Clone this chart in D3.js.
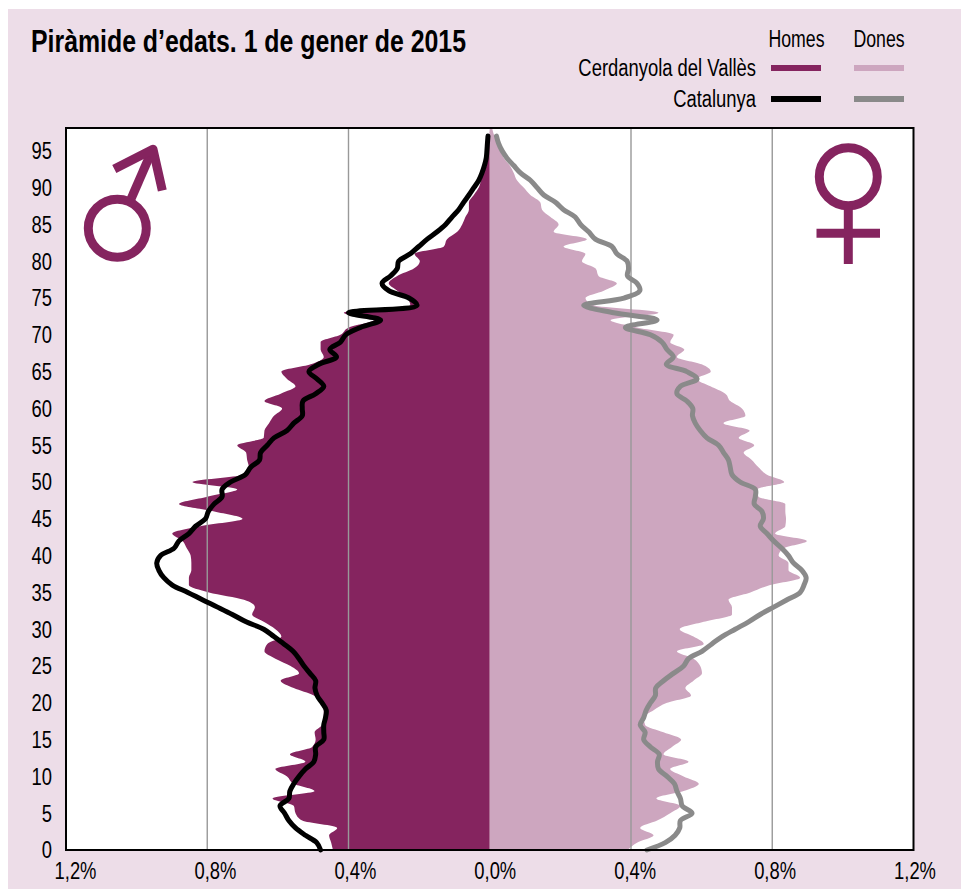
<!DOCTYPE html>
<html>
<head>
<meta charset="utf-8">
<script src="https://cdn.jsdelivr.net/npm/d3@7"></script>
<style>
  html, body { margin: 0; padding: 0; background: #fff; }
  svg { display: block; }
  text { font-family: "Liberation Sans", sans-serif; fill: #000; }
</style>
</head>
<body>
<div id="chart"></div>
<script>
// % of population by single year of age, index = age (0..)
const menLocal = [
  .444,.449,.455,.432,.531,.55,.555,.615,.496,.555,
  .574,.607,.522,.566,.503,.493,.496,.475,.47,.47,
  .47,.498,.555,.592,.54,.564,.607,.638,.63,.59,
  .607,.64,.673,.665,.696,.795,.852,.852,.845,.845,
  .847,.858,.87,.899,.82,.70,.78,.88,.80,.715,
  .842,.70,.682,.687,.69,.715,.64,.638,.625,.611,
  .588,.638,.592,.55,.574,.59,.507,.47,.479,.479,
  .423,.399,.328,.413,.225,.234,.262,.286,.262,.215,
  .198,.213,.13,.121,.092,.078,.069,.059,.059,.045,
  .031,.0245,.017,.009,.006,.004,.002,.001,0
];
const womenLocal = [
  .39,.417,.464,.426,.474,.511,.54,.472,.549,.592,
  .549,.511,.563,.492,.516,.542,.492,.44,.436,.464,
  .502,.57,.554,.577,.601,.596,.577,.53,.606,.577,
  .538,.606,.686,.686,.676,.738,.794,.879,.846,.846,
  .818,.832,.898,.808,.837,.839,.837,.837,.761,.757,
  .834,.785,.761,.742,.719,.749,.705,.736,.662,.724,
  .714,.681,.667,.625,.587,.626,.60,.53,.551,.511,
  .521,.417,.342,.478,.294,.271,.323,.36,.308,.30,
  .261,.271,.209,.275,.181,.195,.172,.148,.143,.115,
  .096,.077,.068,.057,.04,.03,.021,.013,.007
];
const menCat = [
  .479,.49,.522,.55,.569,.581,.594,.569,.566,.555,
  .54,.522,.498,.493,.493,.47,.47,.47,.465,.463,
  .475,.489,.495,.493,.509,.526,.54,.557,.583,.611,
  .64,.69,.729,.771,.814,.855,.899,.923,.937,.943,
  .932,.894,.88,.852,.833,.805,.797,.781,.758,.758,
  .734,.692,.677,.652,.649,.63,.611,.574,.555,.531,
  .531,.529,.493,.47,.489,.512,.484,.434,.453,.423,
  .408,.366,.309,.40,.206,.229,.286,.305,.281,.262,
  .258,.225,.201,.177,.149,.125,.107,.088,.074,.059,
  .045,.031,.022,.015,.01,.008,.0066,.005
];
const womenCat = [
  .445,.497,.525,.538,.54,.573,.545,.54,.53,.523,
  .502,.478,.475,.48,.455,.436,.44,.426,.436,.443,
  .455,.469,.47,.492,.52,.549,.563,.601,.629,.658,
  .695,.733,.766,.804,.842,.879,.89,.896,.884,.86,
  .846,.827,.804,.785,.766,.775,.771,.749,.752,.752,
  .709,.686,.681,.676,.662,.648,.615,.596,.582,.574,
  .575,.558,.53,.54,.587,.558,.50,.52,.502,.488,
  .455,.384,.474,.351,.266,.38,.425,.417,.39,.393,
  .389,.36,.346,.299,.28,.257,.242,.209,.186,.153,
  .134,.115,.087,.068,.049,.035,.025,.019
];
const ageTicks = d3.range(0, 100, 5);
const pctTicks = [-1.2, -0.8, -0.4, 0, 0.4, 0.8, 1.2];
const gridTicks = [-0.8, -0.4, 0.4, 0.8];

const colors = { bg: '#eddde8', menLocal: '#85245f', womenLocal: '#cda6bf', menCat: '#000', womenCat: '#8a8a8a', grid: '#999' };

// No condensed font is installed, so squeeze the glyphs horizontally
function narrow(sel, k) {
  sel.each(function() {
    this.setAttribute('textLength', this.getComputedTextLength() * k);
    this.setAttribute('lengthAdjust', 'spacingAndGlyphs');
  });
}

const svg = d3.select('#chart').append('svg')
  .attr('width', 961)
  .attr('height', 889);

svg.append('rect')
  .attr('x', 8).attr('y', 9)
  .attr('width', 953).attr('height', 880)
  .attr('fill', colors.bg);

const margin = { top: 128, right: 47.5, bottom: 39, left: 66 };
const x = d3.scaleLinear().domain([-1.2, 1.2]).range([margin.left, 961 - margin.right]);
const y = d3.scaleLinear().domain([0, 98.1]).range([889 - margin.bottom, margin.top]);

svg.append('rect')
  .attr('x', x(-1.2)).attr('y', y(98.1))
  .attr('width', x(1.2) - x(-1.2)).attr('height', y(0) - y(98.1))
  .attr('fill', '#fff');

// Filled pyramid, local population
const area = sign => d3.area()
  .curve(d3.curveMonotoneY)
  .y((d, i) => y(i))
  .x0(x(0))
  .x1(d => x(sign * d));

svg.append('path').datum(menLocal).attr('d', area(-1)).attr('fill', colors.menLocal);
svg.append('path').datum(womenLocal).attr('d', area(1)).attr('fill', colors.womenLocal);

// Grid
svg.append('g').selectAll('line').data(gridTicks).join('line')
  .attr('x1', d => x(d)).attr('x2', d => x(d))
  .attr('y1', y(98.1)).attr('y2', y(0))
  .attr('stroke', colors.grid).attr('stroke-width', 1.4);

// Catalunya lines
const line = sign => d3.line()
  .curve(d3.curveCatmullRom.alpha(0.5))
  .y((d, i) => y(i))
  .x(d => x(sign * d));

svg.append('path').datum(womenCat).attr('d', line(1))
  .attr('fill', 'none').attr('stroke', colors.womenCat).attr('stroke-width', 5).attr('stroke-linejoin', 'round').attr('stroke-linecap', 'round');
svg.append('path').datum(menCat).attr('d', line(-1))
  .attr('fill', 'none').attr('stroke', colors.menCat).attr('stroke-width', 5).attr('stroke-linejoin', 'round').attr('stroke-linecap', 'round');

// Axes
const xAxis = svg.append('g')
  .attr('transform', `translate(0,${y(0)})`)
  .call(d3.axisBottom(x).tickValues(pctTicks).tickSize(0).tickPadding(12)
    .tickFormat(d => Math.abs(d).toFixed(1).replace('.', ',') + '%'));
const yAxis = svg.append('g')
  .attr('transform', `translate(${x(-1.2)},0)`)
  .call(d3.axisLeft(y).tickValues(ageTicks).tickSize(0).tickPadding(14));
[xAxis, yAxis].forEach(a => {
  a.attr('font-family', null);
  a.selectAll('text').attr('font-size', 24.5);
  a.select('.domain').remove();
});
// the reference's % labels sit a little tighter than the ticks, leaving room for the "0"
const labelX = d3.scaleLinear().domain([-1.2, 1.2]).range([75, 914.5]);
xAxis.selectAll('text').attr('x', d => labelX(d) - x(d));
narrow(xAxis.selectAll('text'), 0.75);
narrow(yAxis.selectAll('text'), 0.75);

// Frame
svg.append('rect')
  .attr('x', x(-1.2)).attr('y', y(98.1))
  .attr('width', x(1.2) - x(-1.2)).attr('height', y(0) - y(98.1))
  .attr('fill', 'none').attr('stroke', '#000').attr('stroke-width', 2);

// Sex symbols
const male = svg.append('g').attr('fill', 'none').attr('stroke', colors.menLocal).attr('stroke-width', 9);
male.append('circle').attr('cx', 117.3).attr('cy', 228.3).attr('r', 29);
male.append('line').attr('x1', 131).attr('y1', 199).attr('x2', 151).attr('y2', 153);
male.append('path').attr('d', 'M114.3,169 L153,149.2 L162.3,190.4').attr('stroke-linejoin', 'round');

const female = svg.append('g').attr('fill', 'none').attr('stroke', colors.menLocal).attr('stroke-width', 9);
female.append('circle').attr('cx', 848.3).attr('cy', 176.7).attr('r', 29);
female.append('line').attr('x1', 848.3).attr('y1', 205).attr('x2', 848.3).attr('y2', 264);
female.append('line').attr('x1', 816.5).attr('y1', 233.3).attr('x2', 880).attr('y2', 233.3);

// Title and legend
svg.append('text').attr('x', 31).attr('y', 52)
  .attr('font-size', 31).attr('font-weight', 700)
  .attr('textLength', 435).attr('lengthAdjust', 'spacingAndGlyphs')
  .text('Piràmide d’edats. 1 de gener de 2015');

svg.append('text').attr('x', 796.5).attr('y', 47).attr('font-size', 23).attr('text-anchor', 'middle')
  .text('Homes').call(narrow, 0.77);
svg.append('text').attr('x', 879).attr('y', 47).attr('font-size', 23).attr('text-anchor', 'middle')
  .text('Dones').call(narrow, 0.77);

const legendRows = [
  { label: 'Cerdanyola del Vallès', y: 68, men: colors.menLocal, women: colors.womenLocal },
  { label: 'Catalunya', y: 99, men: colors.menCat, women: colors.womenCat }
];
legendRows.forEach(r => {
  svg.append('text').attr('x', 756).attr('y', r.y + 8).attr('font-size', 23).attr('text-anchor', 'end')
    .text(r.label).call(narrow, 0.8);
  svg.append('rect').attr('x', 771).attr('y', r.y - 3).attr('width', 50).attr('height', 6).attr('fill', r.men);
  svg.append('rect').attr('x', 854).attr('y', r.y - 3).attr('width', 50).attr('height', 6).attr('fill', r.women);
});
</script>
</body>
</html>
